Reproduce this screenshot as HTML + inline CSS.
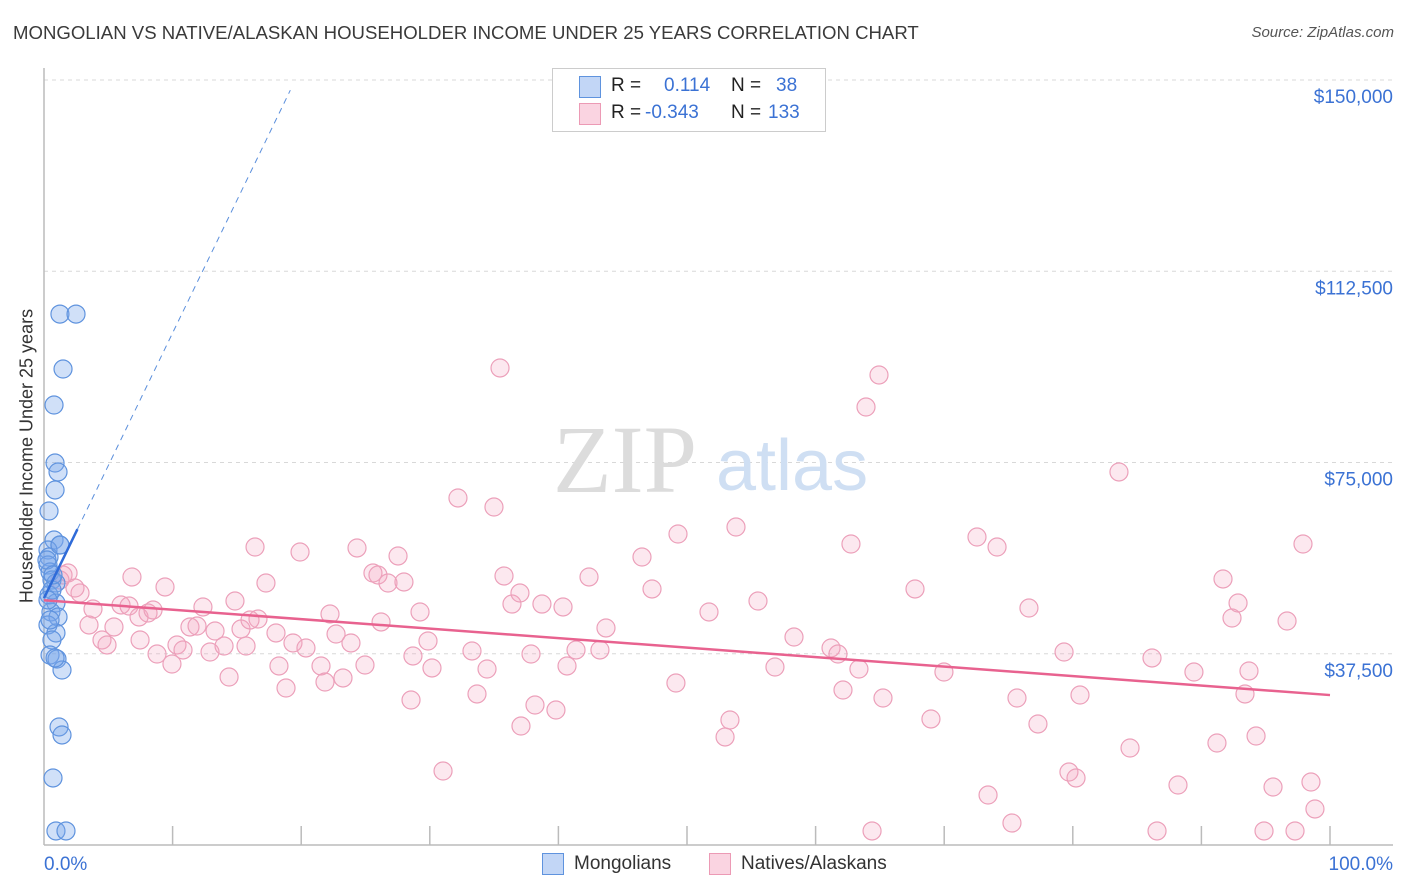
<!DOCTYPE html>
<html><head><meta charset="utf-8"><style>
body{margin:0;background:#fff;font-family:"Liberation Sans",sans-serif;}
#wrap{position:relative;width:1406px;height:892px;overflow:hidden;}
.t{position:absolute;white-space:nowrap;}
</style></head><body>
<div id="wrap">
<div class="t" style="left:13px;top:22px;font-size:18.6px;color:#3a3a3a;">MONGOLIAN VS NATIVE/ALASKAN HOUSEHOLDER INCOME UNDER 25 YEARS CORRELATION CHART</div>
<div class="t" style="right:12px;top:24px;font-size:15px;color:#555;font-style:italic;">Source: ZipAtlas.com</div>
<div class="t" style="left:27px;top:456px;font-size:18px;color:#333;transform:translate(-50%,-50%) rotate(-90deg);">Householder Income Under 25 years</div>
<svg id="svg" width="1406" height="892" style="position:absolute;left:0;top:0"></svg>
</div>
<script>
const yTicks=[37500,75000,112500,150000];
const yTickLabels=["$37,500","$75,000","$112,500","$150,000"];
const monX=[1.24,2.49,1.48,0.78,0.86,1.09,0.86,0.39,0.78,1.24,0.31,0.39,0.31,0.47,0.62,0.93,0.39,0.93,0.54,1.09,0.31,0.93,0.62,0.47,1.01,1.4,1.17,1.4,0.7,0.93,1.71,0.62,0.23,0.31,0.7,0.47,0.86,1.24];
const monY=[104100,104100,93330,86270,74900,73140,69610,65490,59800,58820,57840,56470,54900,53530,51960,51370,49020,47450,45690,44710,43140,41570,40200,37250,36470,34310,23140,21570,13140,2750,2750,50000,55880,48040,52940,44120,36670,58820];
const natX=[1.48,1.87,2.80,2.41,1.24,3.81,3.50,4.51,4.90,5.44,5.99,6.61,6.84,7.39,8.09,8.48,8.79,9.41,9.95,10.34,10.81,11.35,11.90,12.36,12.91,13.30,14.00,14.39,14.85,15.32,15.71,16.41,16.64,17.26,18.04,18.27,18.82,19.36,19.91,20.37,21.54,21.85,22.24,22.71,23.25,23.87,24.34,24.96,25.58,25.97,26.21,26.75,27.53,27.99,28.54,28.69,29.24,29.86,30.17,31.03,32.19,33.28,33.67,34.45,34.99,35.46,35.77,36.39,37.01,37.09,37.87,38.18,38.72,39.81,40.36,40.67,41.37,42.38,43.70,46.50,47.28,49.14,49.30,51.71,52.96,53.34,53.81,55.52,56.84,58.32,61.20,61.74,62.13,62.75,63.37,63.92,64.39,64.93,65.24,67.73,68.97,69.98,72.55,73.41,74.11,75.27,75.66,76.59,77.29,79.32,79.70,80.25,83.59,84.45,86.16,86.55,88.18,89.42,91.21,91.68,92.38,92.85,93.39,93.70,94.25,94.87,95.57,96.66,97.28,97.90,98.52,98.83,80.56,43.23,16.02,7.47];
const natY=[52940,53330,49410,50390,51960,46270,43140,40200,39220,42750,47060,46860,52550,44710,45490,46080,37450,50590,35490,39220,38240,42750,42940,46670,37840,41960,39020,32940,47840,42350,39020,58430,44310,51370,41570,35100,30780,39610,57450,38630,35100,31960,45290,41370,32750,39610,58240,35290,53330,52940,43730,51370,56670,51570,28430,37060,45690,40000,34710,14510,68040,38040,29610,34510,66270,93530,52750,47250,49410,23330,37450,27450,47250,26470,46670,35100,38240,52550,42550,56470,50200,31760,60980,45690,21180,24510,62350,47840,34900,40780,38630,37450,30390,59020,34510,85880,2750,92160,28820,50200,24710,33920,60390,9800,58430,4310,28820,46470,23730,37840,14310,13140,73140,19020,36670,2750,11760,33920,20000,52160,44510,47450,29610,34120,21370,2750,11370,43920,2750,59020,12350,7060,29410,38240,44120,40200];
const monTrend=[48400,5200]; // intercept, slope per %
const natTrend=[48000,-186];  // intercept, slope per %
const X0=44,X1=1330,Y0=845,YT=80,YMAX=150000;
const sx=v=>X0+(X1-X0)*v/100;
const sy=v=>Y0-(Y0-YT)*v/YMAX;
const svg=document.getElementById('svg');
const NS='http://www.w3.org/2000/svg';
function mk(tag,attrs,parent){const e=document.createElementNS(NS,tag);for(const k in attrs)e.setAttribute(k,attrs[k]);(parent||svg).appendChild(e);return e;}
yTicks.forEach((v,i)=>{
 const g=mk('line',{x1:X0,x2:1393,y1:sy(v),y2:sy(v),stroke:'#d8d8d8','stroke-dasharray':'4,4','stroke-width':1});
 
 
 const t=mk('text',{x:1393,y:sy(v)+23,'text-anchor':'end','font-size':19,fill:'#3b72d4','font-family':'Liberation Sans, sans-serif'});
 t.textContent=yTickLabels[i];
 
 
});
const ax=mk('line',{x1:X0,x2:1393,y1:Y0,y2:Y0,stroke:'#bbb','stroke-width':1.5});


const ay=mk('line',{x1:X0,x2:X0,y1:68,y2:Y0,stroke:'#bbb','stroke-width':1.5});


for(let i=1;i<=10;i++){const tk=mk('line',{x1:sx(i*10),x2:sx(i*10),y1:826,y2:Y0,stroke:'#bbb','stroke-width':1.5});
 
 }
const w1=mk('text',{x:553,y:492,'font-size':96,fill:'#dcdcdc','font-family':'Liberation Serif, serif'});w1.textContent='ZIP';


const w2=mk('text',{x:716,y:490,'font-size':72,fill:'#cfdff3','font-family':'Liberation Sans, sans-serif'});w2.textContent='atlas';


natX.forEach((x,i)=>{const c=mk('circle',{cx:sx(x),cy:sy(natY[i]),r:9,fill:'rgba(244,165,192,0.25)',stroke:'#eca0ba','stroke-width':1.2});
 
 });
monX.forEach((x,i)=>{const c=mk('circle',{cx:sx(x),cy:sy(monY[i]),r:9,fill:'rgba(120,165,235,0.35)',stroke:'#5f93de','stroke-width':1.2});
 
 });
const xe=(148000-monTrend[0])/monTrend[1];
const md=mk('line',{x1:sx(2.6),y1:sy(monTrend[0]+monTrend[1]*2.6),x2:sx(xe),y2:sy(monTrend[0]+monTrend[1]*xe),stroke:'#5b8fdc','stroke-width':1,'stroke-dasharray':'6,5'});


const ms=mk('line',{x1:sx(0),y1:sy(monTrend[0]),x2:sx(2.6),y2:sy(monTrend[0]+monTrend[1]*2.6),stroke:'#2f6bd8','stroke-width':2.5});


const ns=mk('line',{x1:sx(0),y1:sy(natTrend[0]),x2:sx(100),y2:sy(natTrend[0]+natTrend[1]*100),stroke:'#e8628f','stroke-width':2.5});


const xl=mk('text',{x:44,y:870,'font-size':19,fill:'#3b72d4','font-family':'Liberation Sans, sans-serif'});xl.textContent='0.0%';


const xr=mk('text',{x:1393,y:870,'text-anchor':'end','font-size':19,fill:'#3b72d4','font-family':'Liberation Sans, sans-serif'});xr.textContent='100.0%';


</script>
<div style="position:absolute;left:552px;top:68px;width:272px;height:62px;border:1px solid #ccc;background:#fff;font-size:19px;color:#222;">
 <div style="position:absolute;left:26px;top:7px;width:20px;height:20px;background:rgba(120,165,235,0.45);border:1px solid #5f93de;"></div>
 <span class="t" style="left:58px;top:6px;">R =</span>
 <span class="t" style="left:111px;top:6px;color:#3b72d4;">0.114</span>
 <span class="t" style="left:178px;top:6px;">N =</span>
 <span class="t" style="left:223px;top:6px;color:#3b72d4;">38</span>
 <div style="position:absolute;left:26px;top:34px;width:20px;height:20px;background:rgba(244,160,188,0.45);border:1px solid #ec9ab5;"></div>
 <span class="t" style="left:58px;top:33px;">R =</span>
 <span class="t" style="left:92px;top:33px;color:#3b72d4;">-0.343</span>
 <span class="t" style="left:178px;top:33px;">N =</span>
 <span class="t" style="left:215px;top:33px;color:#3b72d4;">133</span>
</div>
<div style="position:absolute;left:542px;top:853px;font-size:19px;color:#333;">
 <div style="position:absolute;left:0;top:0;width:20px;height:20px;background:rgba(120,165,235,0.45);border:1px solid #5f93de;"></div>
 <span class="t" style="left:32px;top:0;">Mongolians</span></div>
<div style="position:absolute;left:709px;top:853px;font-size:19px;color:#333;">
 <div style="position:absolute;left:0;top:0;width:20px;height:20px;background:rgba(244,160,188,0.45);border:1px solid #ec9ab5;"></div>
 <span class="t" style="left:32px;top:0;">Natives/Alaskans</span></div>
</body></html>
